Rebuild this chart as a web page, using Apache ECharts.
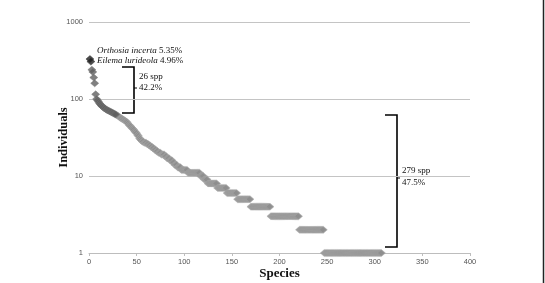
<!DOCTYPE html>
<html>
<head>
<meta charset="utf-8">
<script src="https://cdn.jsdelivr.net/npm/echarts@6/dist/echarts.min.js"></script>
<style>
  html, body { margin: 0; padding: 0; background: #fff; }
  #chart { width: 545px; height: 283px; }
</style>
</head>
<body>
<div id="chart"></div>
<script>
// individuals per species, ranked
const topSpecies = [330, 306];
const commonSpecies = [240, 225, 190, 160, 115, 100, 96, 92, 88, 85, 82, 80, 78,
  76, 75, 73, 72, 71, 70, 69, 68, 67, 66, 65, 64, 63];
const declineSpecies = [62, 61, 60, 58, 57, 56, 55, 54, 53, 52, 51, 50, 48, 46, 45,
  44, 42, 41, 40, 38, 37, 36, 34, 33, 31, 30, 29, 28, 28, 27, 27, 27, 26, 26, 25,
  25, 24, 24, 23, 23, 22, 22, 21, 21, 20, 20, 20, 19, 19, 19, 19, 18, 18, 17, 17,
  17, 16, 16, 16, 15, 15, 14, 14, 14, 13, 13, 13, 13, 12, 12, 12, 12, 12, 12, 12];
// plateaus of equal abundance in the tail: value and number of species
const plateauValues = [11, 10, 9, 8, 7, 6, 5, 4, 3, 2, 1];
const plateauCounts = [13, 4, 4, 10, 10, 11, 14, 21, 30, 26, 61];

const xTicks = [0, 50, 100, 150, 200, 250, 300, 350, 400];
const yTicks = [1, 10, 100, 1000];

let rank = 0;
const topData = topSpecies.map(v => [++rank, v]);
const commonData = commonSpecies.map(v => [++rank, v]);
const restData = declineSpecies.map(v => [++rank, v]);
plateauValues.forEach((v, i) => {
  for (let k = 0; k < plateauCounts[i]; k++) restData.push([++rank, v]);
});

const serif = 'Liberation Serif';
const chart = echarts.init(document.getElementById('chart'));

const diamond = (color, border) => ({
  type: 'scatter',
  symbol: 'diamond',
  symbolSize: [8, 7],
  itemStyle: { color: color, borderColor: border, borderWidth: 0.6 },
  silent: true
});

chart.setOption({
  animation: false,
  grid: { left: 89, right: 75, top: 22, bottom: 30, outerBoundsMode: 'none', containLabel: false },
  xAxis: {
    type: 'value',
    min: xTicks[0],
    max: xTicks[xTicks.length - 1],
    interval: 50,
    axisLine: { lineStyle: { color: '#bdbdbd' } },
    axisTick: { show: true, length: 3, lineStyle: { color: '#bdbdbd' } },
    axisLabel: { color: '#555', fontSize: 7.5, fontFamily: 'Liberation Sans', margin: 5 },
    splitLine: { show: false },
    name: 'Species',
    nameLocation: 'middle',
    nameGap: 14,
    nameMoveOverlap: false,
    nameTextStyle: { fontFamily: serif, fontWeight: 'bold', fontSize: 13, color: '#111' }
  },
  yAxis: {
    type: 'log',
    logBase: 10,
    min: yTicks[0],
    max: yTicks[yTicks.length - 1],
    axisLine: { show: false },
    axisTick: { show: false },
    axisLabel: {
      color: '#555', fontSize: 7.5, fontFamily: 'Liberation Sans', margin: 6,
      formatter: v => String(Math.round(v))
    },
    splitLine: { lineStyle: { color: '#c4c4c4' } },
    name: 'Individuals',
    nameLocation: 'middle',
    nameGap: 19,
    nameMoveOverlap: false,
    nameTextStyle: { fontFamily: serif, fontWeight: 'bold', fontSize: 12.5, color: '#111' }
  },
  series: [
    Object.assign(diamond('#8f8f8f', '#ababab'), { data: restData }),
    Object.assign(diamond('#606060', '#787878'), { data: commonData }),
    Object.assign(diamond('#1e1e1e', '#333'), { data: topData })
  ],
  graphic: [
    {
      type: 'text', left: 97, top: 46,
      style: {
        text: '{i|Orthosia incerta} 5.35%\n{i|Eilema lurideola} 4.96%',
        font: '9px ' + serif, fill: '#111', lineHeight: 10,
        rich: { i: { fontStyle: 'italic', fontFamily: serif, fontSize: 9 } }
      }
    },
    {
      type: 'polyline',
      shape: { points: [[122, 67], [134, 67], [134, 113], [122, 113]] },
      style: { stroke: '#000', lineWidth: 1.6, fill: null }
    },
    {
      type: 'line', shape: { x1: 134, y1: 88, x2: 137, y2: 88 },
      style: { stroke: '#000', lineWidth: 1 }
    },
    {
      type: 'text', left: 139, top: 71,
      style: { text: '26 spp\n42.2%', font: '9px ' + serif, fill: '#111', lineHeight: 11 }
    },
    {
      type: 'polyline',
      shape: { points: [[385, 115], [397, 115], [397, 247], [385, 247]] },
      style: { stroke: '#000', lineWidth: 1.6, fill: null }
    },
    {
      type: 'line', shape: { x1: 397, y1: 178, x2: 400, y2: 178 },
      style: { stroke: '#000', lineWidth: 1 }
    },
    {
      type: 'text', left: 402, top: 165,
      style: { text: '279 spp\n47.5%', font: '9px ' + serif, fill: '#111', lineHeight: 12 }
    },
    {
      type: 'line', shape: { x1: 543.5, y1: 0, x2: 543.5, y2: 283 },
      style: { stroke: '#222', lineWidth: 1.5 }
    }
  ]
});
</script>
</body>
</html>
